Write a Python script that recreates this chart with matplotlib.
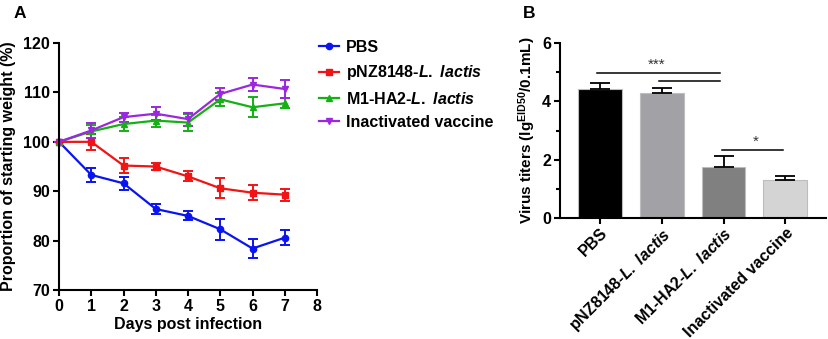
import matplotlib
matplotlib.use("Agg")
import matplotlib.pyplot as plt
from matplotlib.lines import Line2D
import numpy as np

plt.rcParams['font.family'] = ['Liberation Sans', 'DejaVu Sans']
plt.rcParams['font.weight'] = 'bold'
plt.rcParams['mathtext.fontset'] = 'custom'
plt.rcParams['mathtext.rm'] = 'Liberation Sans:bold'
plt.rcParams['mathtext.bf'] = 'Liberation Sans:bold'
plt.rcParams['mathtext.it'] = 'Liberation Sans:italic'

# ---- Panel A data ----
days = [0, 1, 2, 3, 4, 5, 6, 7]
pbs_mean = [100, 93.3, 91.6, 86.4, 85.0, 82.3, 78.4, 80.6]
pbs_err = [0, 1.5, 1.35, 1.1, 0.9, 2.1, 2.0, 1.5]
pnz_mean = [100, 100.0, 95.2, 95.0, 93.0, 90.6, 89.7, 89.3]
pnz_err = [0, 1.6, 1.5, 0.8, 1.0, 2.0, 1.5, 1.2]
m1_mean = [100, 102.1, 103.6, 104.3, 103.9, 108.6, 107.0, 107.8]
m1_err = [0, 1.3, 1.5, 1.2, 1.8, 1.35, 2.0, 1.0]
inact_mean = [100, 102.3, 105.0, 105.7, 104.6, 109.7, 111.6, 110.7]
inact_err = [0, 1.5, 0.9, 1.3, 1.3, 1.2, 1.35, 1.9]
series_labels = ['PBS', r'pNZ8148-$\mathit{L.\ lactis}$', r'M1-HA2-$\mathit{L.\ lactis}$', 'Inactivated vaccine']
colors = ['#0a14f0', '#f01414', '#14b014', '#9b27e0']
markers = ['o', 's', '^', 'v']

# ---- Panel B data ----
groups = ['PBS', r'pNZ8148-$\mathit{L.\ lactis}$', r'M1-HA2-$\mathit{L.\ lactis}$', 'Inactivated vaccine']
titers = [4.41, 4.29, 1.76, 1.32]
titer_err = [0.2, 0.15, 0.37, 0.14]
bar_colors = ['#000000', '#a2a2a6', '#808080', '#d4d4d4']

FS = 11.5
TFS = 11.5

fig = plt.figure(figsize=(8.29, 3.39), dpi=100)

# ---------- Panel A ----------
axA = fig.add_axes([0.0712, 0.1445, 0.3112, 0.7285])
all_means = [pbs_mean, pnz_mean, m1_mean, inact_mean]
all_errs = [pbs_err, pnz_err, m1_err, inact_err]
handles = []
for m, e, c, mk, lab in zip(all_means, all_errs, colors, markers, series_labels):
    axA.errorbar(days, m, yerr=e, color=c, marker=mk, markersize=4.5, lw=1.6,
                 capsize=3.5, capthick=1.4, elinewidth=1.4, clip_on=False)
    handles.append(Line2D([], [], color=c, marker=mk, markersize=4.5, lw=1.6, label=lab))
axA.set_xlim(0, 8)
axA.set_ylim(70, 120)
axA.set_xticks(range(0, 9))
axA.set_yticks(range(70, 121, 10))
for s in ['top', 'right']:
    axA.spines[s].set_visible(False)
for s in ['left', 'bottom']:
    axA.spines[s].set_linewidth(1.5)
axA.tick_params(direction='out', length=4.5, width=1.5, labelsize=TFS, pad=2)
axA.set_xlabel('Days post infection', fontsize=FS, fontweight='bold', labelpad=2)
axA.set_ylabel('Proportion of starting weight (%)', fontsize=FS, fontweight='bold')
axA.yaxis.set_label_coords(-0.165, 0.5)

fig.legend(handles=handles, loc='upper left', bbox_to_anchor=(0.385, 0.883),
           frameon=False, handlelength=1.25, handletextpad=0.45, borderaxespad=0,
           labelspacing=0.53, borderpad=0, prop={'weight': 'bold', 'size': FS})

# ---------- Panel B ----------
axB = fig.add_axes([0.6755, 0.356, 0.3209, 0.518])
x = np.arange(len(groups))
axB.bar(x, titers, width=0.71, color=bar_colors, edgecolor='#bdbdbd', linewidth=0.8, zorder=2)
axB.errorbar(x, titers, yerr=[[0] * len(titers), titer_err], fmt='none', ecolor='black',
             elinewidth=1.3, capsize=7.5, capthick=1.3, zorder=3)
axB.set_xlim(-0.65, 3.66)
axB.set_ylim(0, 6)
axB.set_yticks([0, 2, 4, 6])
axB.set_yticks([1, 3, 5], minor=True)
axB.set_xticks(x)
axB.set_xticklabels(groups, rotation=45, ha='right', rotation_mode='anchor', fontsize=11.2, fontweight='bold')
for s in ['top', 'right']:
    axB.spines[s].set_visible(False)
for s in ['left', 'bottom']:
    axB.spines[s].set_linewidth(1.5)
axB.tick_params(which='major', direction='out', length=4.5, width=1.5, labelsize=TFS, pad=2)
axB.tick_params(axis='x', which='major', pad=0.5)
axB.tick_params(which='minor', direction='out', length=3, width=1.5)
axB.set_ylabel(r'Virus titers (lg$^{\mathbf{EID50}}$/0.1mL)', fontsize=11, fontweight='bold')
axB.yaxis.set_label_coords(-0.082, 0.5)

# significance annotations
axB.plot([-0.05, 1.95], [4.98, 4.98], color='black', lw=1.1, clip_on=False)
axB.plot([0.95, 1.95], [4.70, 4.70], color='black', lw=1.1, clip_on=False)
axB.text(0.92, 5.0, '***', ha='center', va='bottom', fontsize=11, fontweight='normal', color='#333333')
axB.plot([1.98, 2.97], [2.33, 2.33], color='black', lw=1.1, clip_on=False)
axB.text(2.52, 2.36, '*', ha='center', va='bottom', fontsize=11, fontweight='normal', color='#333333')

fig.text(14 / 829, 1 - 13 / 339, 'A', fontsize=12.5, fontweight='bold', va='center', ha='left')
fig.text(523 / 829, 1 - 13 / 339, 'B', fontsize=12.5, fontweight='bold', va='center', ha='left')

fig.savefig('out.png', dpi=100)
